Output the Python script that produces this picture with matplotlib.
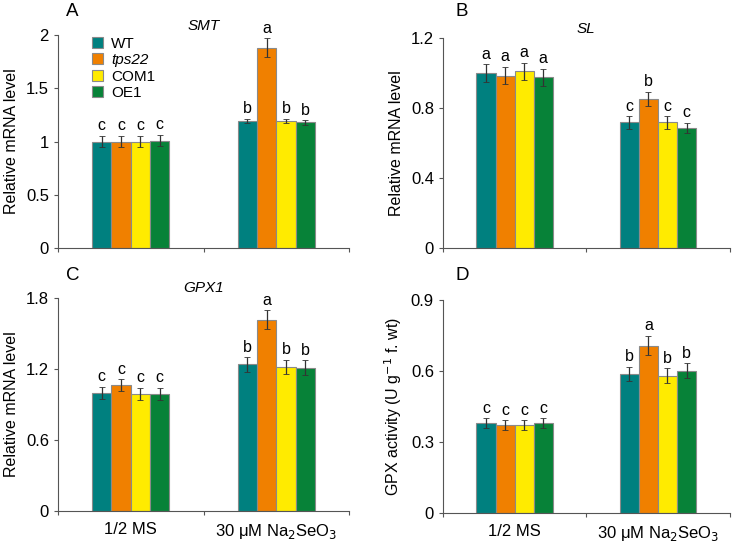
import matplotlib
matplotlib.use("Agg")
import matplotlib.pyplot as plt
import numpy as np

plt.rcParams['font.family'] = ['Liberation Sans', 'DejaVu Sans']

# data
genotypes = ["WT", "tps22", "COM1", "OE1"]
colors = ["#00807f", "#f08000", "#ffeb00", "#078238"]
groups = ["1/2 MS", "30 μM Na$_2$SeO$_3$"]

smt_ms = [1.00, 1.00, 1.00, 1.01]
smt_ms_err = [0.05, 0.05, 0.05, 0.05]
smt_se = [1.19, 1.88, 1.19, 1.18]
smt_se_err = [0.02, 0.09, 0.02, 0.02]
smt_letters = ["c", "c", "c", "c", "b", "a", "b", "b"]

sl_ms = [1.00, 0.985, 1.01, 0.976]
sl_ms_err = [0.05, 0.05, 0.05, 0.05]
sl_se = [0.718, 0.851, 0.718, 0.685]
sl_se_err = [0.035, 0.04, 0.035, 0.03]
sl_letters = ["a", "a", "a", "a", "c", "b", "c", "c"]

gpx1_ms = [0.997, 1.062, 0.992, 0.992]
gpx1_ms_err = [0.05, 0.05, 0.05, 0.05]
gpx1_se = [1.238, 1.616, 1.215, 1.212]
gpx1_se_err = [0.06, 0.08, 0.06, 0.06]
gpx1_letters = ["c", "c", "c", "c", "b", "a", "b", "b"]

act_ms = [0.380, 0.371, 0.371, 0.380]
act_ms_err = [0.02, 0.02, 0.02, 0.02]
act_se = [0.589, 0.707, 0.581, 0.602]
act_se_err = [0.03, 0.04, 0.03, 0.03]
act_letters = ["c", "c", "c", "c", "b", "a", "b", "b"]

fig = plt.figure(figsize=(7.37, 5.44), dpi=100)

panels = [
    # rect, values, errors, letters, ylim, yticks, ylabel, title, tag, tag position, show xlabels
    ([0.0787, 0.544, 0.395, 0.3915], smt_ms, smt_ms_err, smt_se, smt_se_err, smt_letters,
     2, [0, 0.5, 1, 1.5, 2], ["0", "0.5", "1", "1.5", "2"], "Relative mRNA level", "SMT",
     "A", (66, 11), False),
    ([0.601, 0.544, 0.389, 0.386], sl_ms, sl_ms_err, sl_se, sl_se_err, sl_letters,
     1.2, [0, 0.4, 0.8, 1.2], ["0", "0.4", "0.8", "1.2"], "Relative mRNA level", "SL",
     "B", (456, 11), False),
    ([0.0787, 0.0607, 0.395, 0.3915], gpx1_ms, gpx1_ms_err, gpx1_se, gpx1_se_err, gpx1_letters,
     1.8, [0, 0.6, 1.2, 1.8], ["0", "0.6", "1.2", "1.8"], "Relative mRNA level", "GPX1",
     "C", (66, 276), True),
    ([0.601, 0.057, 0.389, 0.3915], act_ms, act_ms_err, act_se, act_se_err, act_letters,
     0.9, [0, 0.3, 0.6, 0.9], ["0", "0.3", "0.6", "0.9"], "GPX activity (U g$^{-1}$ f. wt)", None,
     "D", (456, 276), True),
]

w = 0.133
x = np.arange(len(groups))

for (rect, ms, ms_err, se, se_err, letters, ymax, yticks, yticklabels,
     ylabel, title, tag, tag_xy, show_x) in panels:
    ax = fig.add_axes(rect)
    for i, g in enumerate(genotypes):
        vals = [ms[i], se[i]]
        errs = [ms_err[i], se_err[i]]
        pos = x + (i - 1.5) * w
        ax.bar(pos, vals, width=w, color=colors[i], edgecolor="#8a8a8a", linewidth=0.8,
               yerr=errs, capsize=2,
               error_kw=dict(ecolor="#333333", elinewidth=0.9, capthick=0.6),
               label=g, zorder=2)
        for j in range(2):
            ax.annotate(letters[j * 4 + i], (pos[j], vals[j] + errs[j]),
                        xytext=(0, 2), textcoords="offset points",
                        ha="center", va="bottom", fontsize=11.5)
    ax.set_xlim(-0.5, 1.5)
    ax.set_ylim(0, ymax)
    ax.set_yticks(yticks)
    ax.set_yticklabels(yticklabels, fontsize=12)
    ax.set_xticks([-0.5, 0.5, 1.5])
    ax.set_xticklabels([])
    ax.set_xticks(x, minor=True)
    if show_x:
        ax.set_xticklabels(groups, minor=True, fontsize=12)
    ax.tick_params(axis="x", which="minor", length=0, pad=8)
    ax.tick_params(axis="both", which="major", length=3, width=0.8, color="#555555")
    for s in ["top", "right"]:
        ax.spines[s].set_visible(False)
    for s in ["left", "bottom"]:
        ax.spines[s].set_color("#555555")
        ax.spines[s].set_linewidth(0.8)
    ax.set_ylabel(ylabel, fontsize=11.5, labelpad=5)
    if title:
        ax.set_title(title, fontsize=11, style="italic", pad=4)
    fig.text(tag_xy[0] / 737, 1 - tag_xy[1] / 544, tag, fontsize=13.5, ha="left", va="center")
    if tag == "A":
        leg = ax.legend(loc="upper left", bbox_to_anchor=(0.095, 1.02), frameon=False,
                        fontsize=11, handlelength=0.75, handleheight=0.75,
                        handletextpad=0.5, labelspacing=0.15, borderaxespad=0)
        leg.get_texts()[1].set_style("italic")

plt.savefig("out.png", dpi=100)
